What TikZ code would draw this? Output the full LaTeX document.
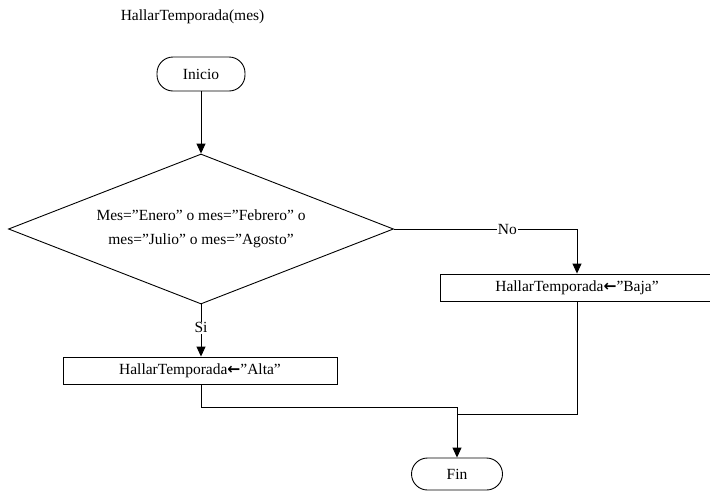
\documentclass[tikz,border=0pt]{standalone}
\usepackage{fontspec}
\setmainfont{Liberation Serif}
\newfontfamily\flechafont{DejaVu Sans}
\usepackage{tikz}
\usetikzlibrary{shapes.geometric}
\usetikzlibrary{arrows.meta}

\newcommand{\asigna}{{\flechafont\bfseries ←}}

\begin{document}
\begin{tikzpicture}
		[x=1pt, y=-1pt, font=\fontsize{15.5}{24}\selectfont, line width=0.9pt,
		terminal/.style={rectangle, draw=black, rounded corners=16pt, minimum width=88pt, minimum height=34pt, inner sep=0pt},
		proceso/.style={rectangle, draw=black, minimum width=274pt, minimum height=27pt, inner sep=0pt},
		decision/.style={diamond, draw=black, aspect=2.57, minimum width=385pt, minimum height=150pt, inner sep=0pt, align=center},
		flecha/.style={-{Triangle[length=10pt,width=9pt]}},
		etiqueta/.style={fill=white, inner sep=1pt}]
		\useasboundingbox (0,0) rectangle (710,493);
		\clip (0,0) rectangle (710,493);

		\node[anchor=west] (titulo) at (117,17) {HallarTemporada(mes)};

		\node[terminal] (inicio) at (201,74) {Inicio};
		\node[decision] (cond) at (201,229) {Mes=”Enero” o mes=”Febrero” o\\mes=”Julio” o mes=”Agosto”};
		\node[proceso] (alta) at (200,370.5) {HallarTemporada\asigna”Alta”};
		\node[proceso] (baja) at (577,287.5) {HallarTemporada\asigna”Baja”};
		\node[terminal, minimum width=91pt, minimum height=32pt] (fin) at (457,474) {Fin};

		\coordinate (union1) at (201,407);
		\coordinate (union2) at (577,414);

		\draw[flecha] (inicio) to (cond);
		\draw[flecha] (cond.south) to node[etiqueta, pos=0.45] {Si} (cond.south |- alta.north);
		\draw[flecha] (cond.east) -| node[etiqueta, pos=0.31] {No} (baja.north);
		\draw (alta.south -| union1) to (union1);
		\draw[flecha] (union1) -| (fin.north);
		\draw (baja.south) to (union2) to (union2 -| fin.north);
	\end{tikzpicture}
\end{document}
